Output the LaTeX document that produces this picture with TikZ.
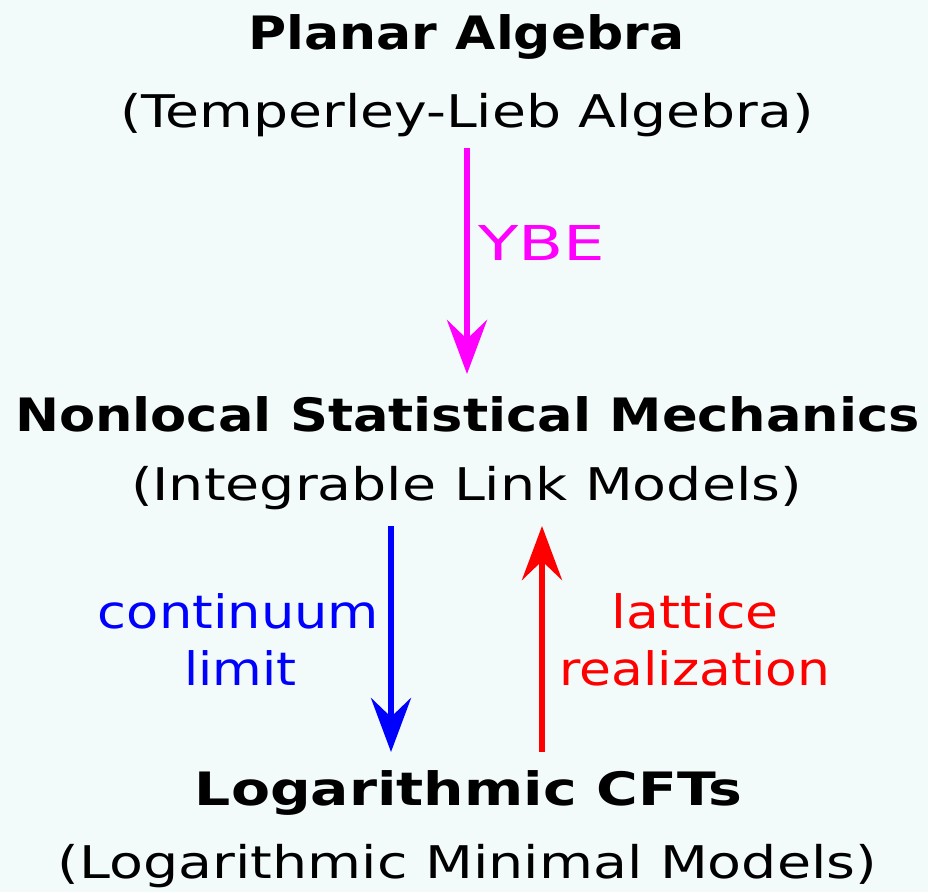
\documentclass[tikz,border=0pt]{standalone}
\usepackage{fontspec}
\setmainfont{DejaVu Sans}
\usetikzlibrary{arrows.meta}
\definecolor{bg}{HTML}{F2FAFA}
\definecolor{cmag}{RGB}{255,0,255}
\definecolor{cblue}{RGB}{0,0,255}
\definecolor{cred}{RGB}{255,0,0}
\newsavebox\fitbox
\newcommand\fitw[2]{\sbox\fitbox{#2}\edef\fitsc{\fpeval{round((#1)/(\the\wd\fitbox),4)}}\scalebox{\fitsc}[1]{\usebox\fitbox}}
\begin{document}
\begin{tikzpicture}[x=1pt,y=-1pt,
  txt/.style={anchor=base,inner sep=0pt,font=\fontsize{45}{52}\selectfont},
  hd/.style={anchor=base,inner sep=0pt,font=\fontsize{46}{54}\selectfont\bfseries},
  lbl/.style={anchor=base,inner sep=0pt,font=\fontsize{46}{54}\selectfont},
  arr/.style={line width=6.5pt,-{Stealth[length=54pt,width=40pt,inset=19pt]}}]
\fill[bg] (0,0) rectangle (928,892);
\useasboundingbox (0,0) rectangle (928,892);
\node[hd] (pa) at (466.5,49) {\fitw{436}{Planar Algebra}};
\node[txt] (tl) at (467,127) {\fitw{694}{(Temperley-Lieb Algebra)}};
\node[hd] (nsm) at (467.5,431) {\fitw{905}{Nonlocal Statistical Mechanics}};
\node[txt] (ilm) at (466.5,500) {\fitw{671}{(Integrable Link Models)}};
\node[hd] (lc) at (468.5,805) {\fitw{547}{Logarithmic CFTs}};
\node[txt] (lmm) at (467.5,878) {\fitw{819}{(Logarithmic Minimal Models)}};
\coordinate (y1) at (467,148);
\coordinate (y2) at (467,374);
\coordinate (b1) at (391,526);
\coordinate (b2) at (391,752);
\coordinate (r1) at (542,752);
\coordinate (r2) at (542,526);
\draw[arr,cmag] (y1) -- (y2);
\draw[arr,cblue] (b1) -- (b2);
\draw[arr,cred] (r1) -- (r2);
\node[lbl,anchor=base west,text=cmag,font=\fontsize{48}{54}\selectfont] (ybe) at (478,260) {\fitw{127}{YBE}};
\node[lbl,text=cblue] (cl1) at (238.5,628) {\fitw{281}{continuum}};
\node[lbl,text=cblue] (cl2) at (240.5,685) {\fitw{112}{limit}};
\node[lbl,text=cred] (lr1) at (695,628) {\fitw{167}{lattice}};
\node[lbl,text=cred] (lr2) at (695,685) {\fitw{271}{realization}};
\end{tikzpicture}
\end{document}
